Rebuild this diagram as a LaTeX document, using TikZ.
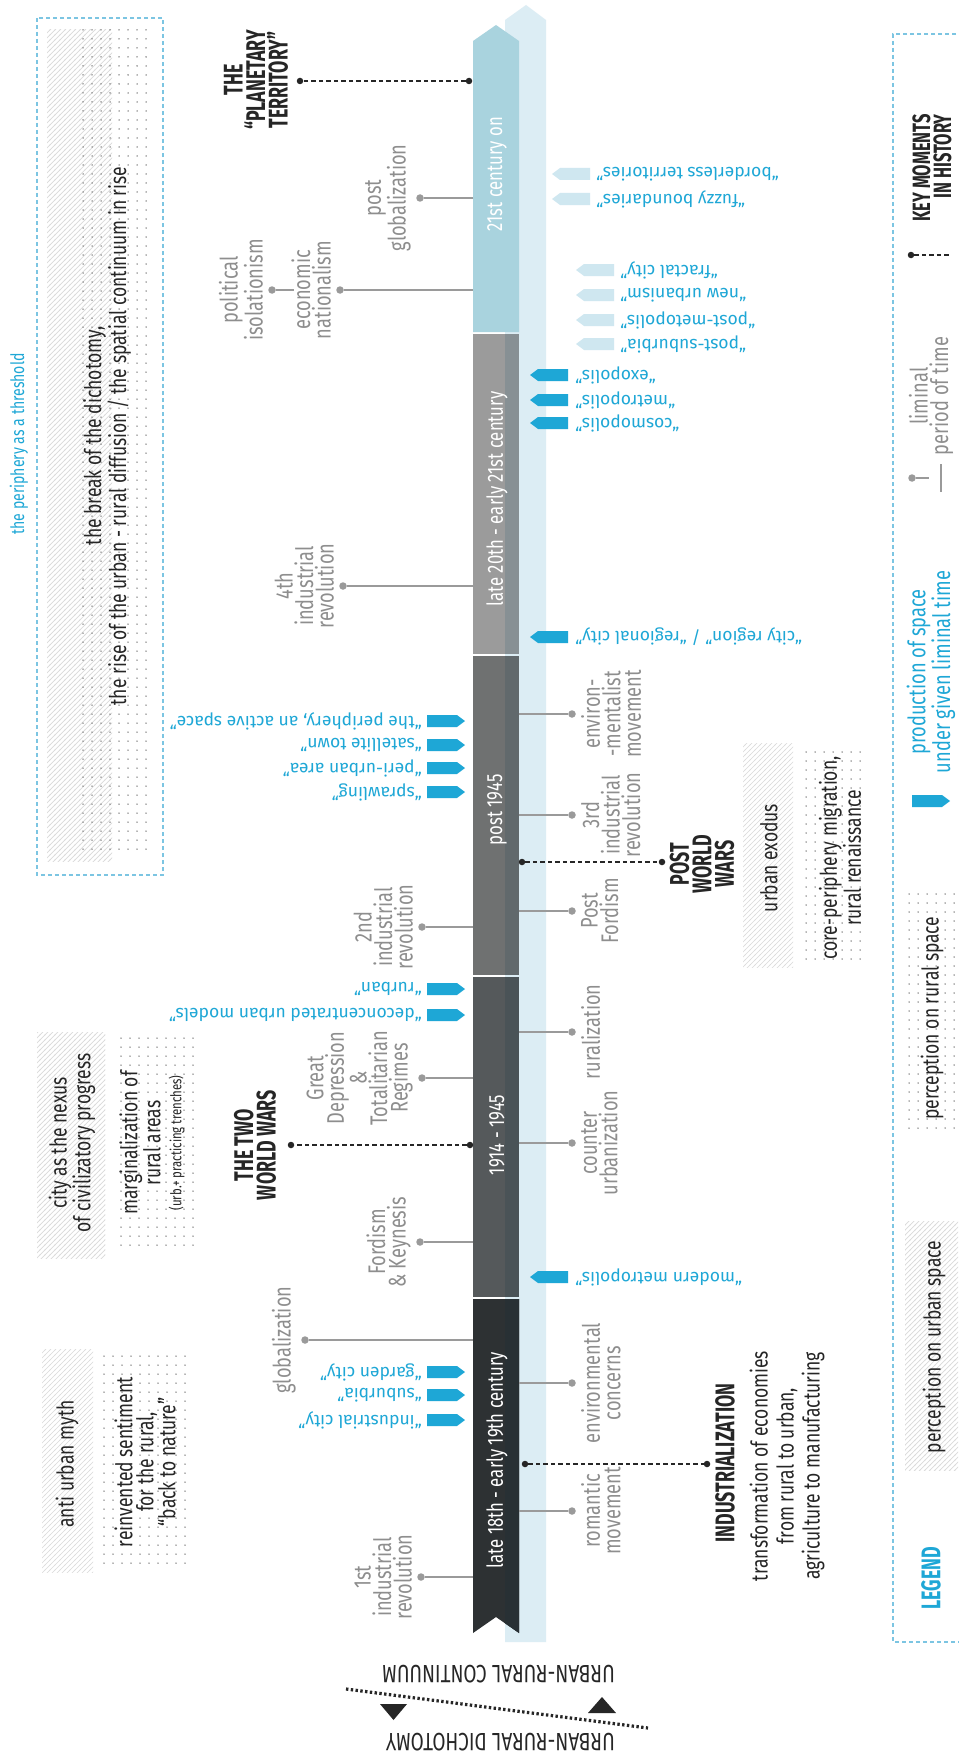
\documentclass[tikz,border=0pt]{standalone}
\usepackage{fontspec}
\setmainfont{Fira Sans}[FakeStretch=0.76]
\newfontfamily\headfont{Fira Sans}[FakeStretch=0.66]
\newfontfamily\quotefont{Fira Sans}
\usetikzlibrary{patterns}

\definecolor{qblue}{HTML}{1EA7D6}
\definecolor{qlight}{HTML}{CFE7F0}
\definecolor{bandcol}{HTML}{DCEDF4}
\definecolor{segA}{HTML}{A9D3DE}
\definecolor{segB}{HTML}{9B9B9B}
\definecolor{segBs}{HTML}{879094}
\definecolor{segC}{HTML}{6F7171}
\definecolor{segCs}{HTML}{61696C}
\definecolor{segD}{HTML}{55595B}
\definecolor{segDs}{HTML}{4A5357}
\definecolor{segE}{HTML}{2D3133}
\definecolor{segEs}{HTML}{283034}
\definecolor{txtgray}{HTML}{8E8E8E}
\definecolor{pingray}{HTML}{9A9A9A}
\definecolor{frameblue}{HTML}{7CC5E2}
\definecolor{ink}{HTML}{262626}
\definecolor{dotcol}{HTML}{6A6A6A}
\definecolor{hatchcol}{HTML}{DADADA}

% light diagonal hatching with a wide spacing
\pgfdeclarepatternformonly{widehatch}{\pgfqpoint{-1pt}{-1pt}}{\pgfqpoint{6pt}{6pt}}{\pgfqpoint{5pt}{5pt}}{%
  \pgfsetlinewidth{0.7pt}%
  \pgfpathmoveto{\pgfqpoint{-0.5pt}{-0.5pt}}%
  \pgfpathlineto{\pgfqpoint{5.5pt}{5.5pt}}%
  \pgfusepath{stroke}}

% grid of small dots: first column x, first row y, last column index, last row index
\newcommand\dotfield[4]{%
  \foreach \i in {0,...,#3}{\foreach \j in {0,...,#4}{\fill[dotcol] (#1+9*\i,#2+9*\j) circle (0.75);}}}

\tikzset{
  pics/arrowR/.style={code={\fill[#1] (-19,-6) -- (11,-6) -- (19,0) -- (11,6) -- (-19,6) -- cycle;}},
  pics/arrowL/.style={code={\fill[#1] (19,-6) -- (-11,-6) -- (-19,0) -- (-11,6) -- (19,6) -- cycle;}},
}

\begin{document}
\begin{tikzpicture}[x=1pt,y=-1pt,
  seglbl/.style={rotate=90, text=white, font=\fontsize{22}{24}\selectfont, inner sep=0pt},
  glbl/.style={rotate=90, text=txtgray, align=center, font=\fontsize{24}{20.5}\selectfont, inner sep=0pt},
  gleft/.style={glbl, anchor=south},
  gright/.style={glbl, anchor=north},
  pinline/.style={draw=pingray, line width=1.5pt},
  pindot/.style={circle, fill=pingray, inner sep=0pt, minimum size=7.5pt},
  keyline/.style={draw=ink, line width=1.4pt, dash pattern=on 4.5pt off 3pt},
  keydot/.style={circle, fill=ink, inner sep=0pt, minimum size=6.5pt},
  keyhead/.style={rotate=90, align=center, text=ink, font=\headfont\bfseries\fontsize{27}{22.5}\selectfont, inner sep=0pt},
  qleft/.style={rotate=180, anchor=west, text=qblue, font=\quotefont\fontsize{17.5}{17.5}\selectfont, inner sep=0pt},
  qright/.style={qleft, anchor=east},
  boxtxt/.style={rotate=90, align=center, text=ink, font=\fontsize{23}{23}\selectfont, inner sep=0pt},
  hatch/.style={pattern=widehatch, pattern color=hatchcol},
  frame/.style={draw=frameblue, line width=1.3pt, dash pattern=on 4pt off 3pt},
]
\useasboundingbox (0,0) rectangle (958,1755);
\fill[white] (0,0) rectangle (958,1755);

% ---------- side panels ----------
\draw[frame] (37,18) rectangle (163,875);
\fill[hatch] (47,30) rectangle (112,861);
\dotfield{83}{30}{7}{91}
\node[boxtxt, font=\fontsize{23}{25}\selectfont] (thr) at (107,436)
  {the break of the dichotomy,\\the rise of the urban - rural diffusion / the spatial continuum in rise};
\node[rotate=90, text=qblue, font=\fontsize{18.5}{18.5}\selectfont, inner sep=0pt] (thrlbl) at (19,444) {the periphery as a threshold};

\fill[hatch] (37,1032) rectangle (105,1258);
\node[boxtxt, font=\fontsize{23}{22}\selectfont] (nexus) at (72,1143) {city as the nexus\\of civilizatory progress};
\dotfield{121}{1038}{8}{23}
\node[boxtxt, font=\fontsize{23}{21}\selectfont] (marg) at (152,1143)
  {marginalization of\\rural areas\\{\fontsize{15}{17}\selectfont (urb.+ practicing trenches)}};

\fill[hatch] (42,1349) rectangle (93,1572);
\node[boxtxt] (myth) at (67,1464) {anti urban myth};
\dotfield{104}{1356}{9}{23}
\node[boxtxt, font=\fontsize{23}{21}\selectfont] (back) at (145,1462)
  {reinvented sentiment\\for the rural,\\“back to nature”};

\fill[hatch] (743,743) rectangle (793,967);
\node[boxtxt] (exodus) at (769,858) {urban exodus};
\dotfield{806}{752}{6}{23}
\node[boxtxt, font=\fontsize{23}{21}\selectfont] (core) at (840,858) {core-periphery migration,\\rural renaissance};

% ---------- time axis ----------
\fill[bandcol] (505,1642) -- (505,20) -- (526,5) -- (546,20) -- (546,1642) -- cycle;
\fill[segA] (473,332) -- (473,41) -- (496,25) -- (519,41) -- (519,332) -- cycle;
\fill[segB] (473,334) rectangle (519,654);
\fill[segBs] (505,334) rectangle (519,654);
\fill[segC] (473,656) rectangle (519,975);
\fill[segCs] (505,656) rectangle (519,975);
\fill[segD] (473,977) rectangle (519,1297);
\fill[segDs] (505,977) rectangle (519,1297);
\fill[segE] (473,1299) -- (519,1299) -- (519,1633) -- (496,1617) -- (473,1633) -- cycle;
\fill[segEs] (505,1299) -- (519,1299) -- (519,1633) -- (505,1623.3) -- cycle;

\node[seglbl] (e5) at (497,174) {21st century on};
\node[seglbl] (e4) at (497,499) {late 20th - early 21st century};
\node[seglbl] (e3) at (497,810) {post 1945};
\node[seglbl] (e2) at (497,1135) {1914 - 1945};
\node[seglbl] (e1) at (497,1460) {late 18th - early 19th century};

% ---------- liminal periods, left side ----------
\foreach \nm/\y/\dx/\t in {
  pg/198/420/{post\\globalization},
  en/290/340/{economic\\nationalism},
  i4/586/343/{4th\\industrial\\revolution},
  i2/927/422/{2nd\\industrial\\revolution},
  gd/1078/422/{Great\\Depression\\\&\\Totalitarian\\Regimes},
  fk/1242/420/{Fordism\\\& Keynesis},
  gl/1340/305/{globalization},
  i1/1577/421/{1st\\industrial\\revolution}}{
  \coordinate (\nm-b) at (473,\y);
  \node[pindot] (\nm-d) at (\dx,\y) {};
  \draw[pinline] (\nm-b) -- (\nm-d);
  \node[gleft] (\nm-t) at (\dx-9,\y) {\t};
}
\node[pindot] (pi-d) at (272,290) {};
\coordinate (pi-e) at (294,290);
\draw[pinline] (pi-d) -- (pi-e);
\node[gleft] (pi-t) at (263,290) {political\\isolationism};

% ---------- liminal periods, right side ----------
\foreach \nm/\y/\t in {
  em/714/{environ-\\-mentalist\\movement},
  i3/815/{3rd\\industrial\\revolution},
  pf/911/{Post\\Fordism},
  ru/1032/{ruralization},
  cu/1143/{counter\\urbanization},
  ec/1383/{environmental\\concerns},
  rm/1511/{romantic\\movement}}{
  \coordinate (\nm-b) at (519,\y);
  \node[pindot] (\nm-d) at (572,\y) {};
  \draw[pinline] (\nm-b) -- (\nm-d);
  \node[gright] (\nm-t) at (581,\y) {\t};
}

% ---------- key moments ----------
\node[keydot] (k1a) at (469,81) {};
\node[keydot] (k1b) at (300,81) {};
\draw[keyline] (k1a) -- (k1b);
\node[keyhead] (k1) at (256,80) {THE\\“PLANETARY\\TERRITORY”};

\node[keydot] (k2a) at (522,862) {};
\node[keydot] (k2b) at (662,862) {};
\draw[keyline] (k2a) -- (k2b);
\node[keyhead] (k2) at (702,864) {POST\\WORLD\\WARS};

\node[keydot] (k3a) at (470,1145) {};
\node[keydot] (k3b) at (291,1145) {};
\draw[keyline] (k3a) -- (k3b);
\node[keyhead] (k3) at (255,1145) {THE TWO\\WORLD WARS};

\node[keydot] (k4a) at (525,1464) {};
\node[keydot] (k4b) at (707,1464) {};
\draw[keyline] (k4a) -- (k4b);
\node[keyhead] (k4) at (725,1463) {INDUSTRIALIZATION};
\node[boxtxt, font=\fontsize{23}{26}\selectfont] (k4d) at (787,1466)
  {transformation of economies\\from rural to urban,\\agriculture to manufacturing};

% ---------- productions of space, left ----------
\foreach \nm/\y/\t in {
  qa/721/{the periphery, an active space},
  qb/745/{satellite town},
  qc/768/{peri-urban area},
  qd/792/{sprawling},
  qe/989/{rurban},
  qf/1015/{deconcentrated urban models},
  qg/1372/{garden city},
  qh/1395/{suburbia},
  qi/1420/{industrial city}}{
  \pic at (446,\y) {arrowR=qblue};
  \node[qleft] (\nm) at (422,\y) {“\t”};
}

% ---------- productions of space, right ----------
\foreach \nm/\y/\t in {
  ra/375/{exopolis},
  rb/400/{metropolis},
  rc/423/{cosmopolis},
  rd/637/{city region” / “regional city},
  re/1277/{modern metropolis}}{
  \pic at (549,\y) {arrowL=qblue};
  \node[qright] (\nm) at (575,\y) {“\t”};
}
\foreach \nm/\y/\t in {
  rf/270/{fractal city},
  rg/295/{new urbanism},
  rh/320/{post-metopolis},
  ri/344/{post-suburbia}}{
  \pic at (595,\y) {arrowL=qlight};
  \node[qright] (\nm) at (620,\y) {“\t”};
}
\foreach \nm/\y/\t in {
  rj/174/{borderless territories},
  rk/199/{fuzzy boundaries}}{
  \pic at (571,\y) {arrowL=qlight};
  \node[qright] (\nm) at (596,\y) {“\t”};
}

% ---------- continuum / dichotomy ----------
\node[rotate=180, anchor=base west, font=\fontsize{25}{25}\selectfont, text=ink, inner sep=0pt] (urc) at (615,1665) {URBAN-RURAL CONTINUUM};
\coordinate (ur-a) at (346,1689);
\coordinate (ur-b) at (648,1728);
\draw[ink, line width=3.2pt, dash pattern=on 2.4pt off 2.4pt] (ur-a) -- (ur-b);
\fill[ink] (380,1704) -- (407,1704) -- (393.5,1720) -- cycle;
\fill[ink] (588,1713) -- (616,1713) -- (602,1697) -- cycle;
\node[rotate=180, anchor=base west, font=\fontsize{25}{25}\selectfont, text=ink, inner sep=0pt] (urd) at (615,1733) {URBAN-RURAL DICHOTOMY};

% ---------- legend ----------
\draw[frame] (970,34) -- (893,34) -- (893,1642) -- (970,1642);
\node[rotate=90, align=right, text=ink, font=\headfont\bfseries\fontsize{25}{21}\selectfont, inner sep=0pt] (lg1) at (932,168) {KEY MOMENTS\\IN HISTORY};
\node[keydot] (lg1a) at (911,255) {};
\coordinate (lg1b) at (949,255);
\draw[keyline] (lg1a) -- (lg1b);
\node[glbl] (lg2) at (931,396) {liminal\\period of time};
\node[pindot] (lg2a) at (912,478) {};
\coordinate (lg2b) at (929,478);
\draw[pinline] (lg2a) -- (lg2b);
\coordinate (lg2c) at (941,464);
\coordinate (lg2d) at (941,492);
\draw[pinline] (lg2c) -- (lg2d);
\node[glbl, text=qblue] (lg3) at (931,672) {production of space\\under given liminal time};
\pic at (931,801) {arrowR=qblue};
\dotfield{909}{894}{5}{26}
\node[boxtxt] (lg4) at (932,1018) {perception on rural space};
\fill[hatch] (905,1221) rectangle (958,1470);
\node[boxtxt] (lg5) at (934,1347) {perception on urban space};
\node[rotate=90, text=qblue, font=\headfont\bfseries\fontsize{27}{27}\selectfont, inner sep=0pt] (lg6) at (931,1578) {LEGEND};
\end{tikzpicture}
\end{document}
